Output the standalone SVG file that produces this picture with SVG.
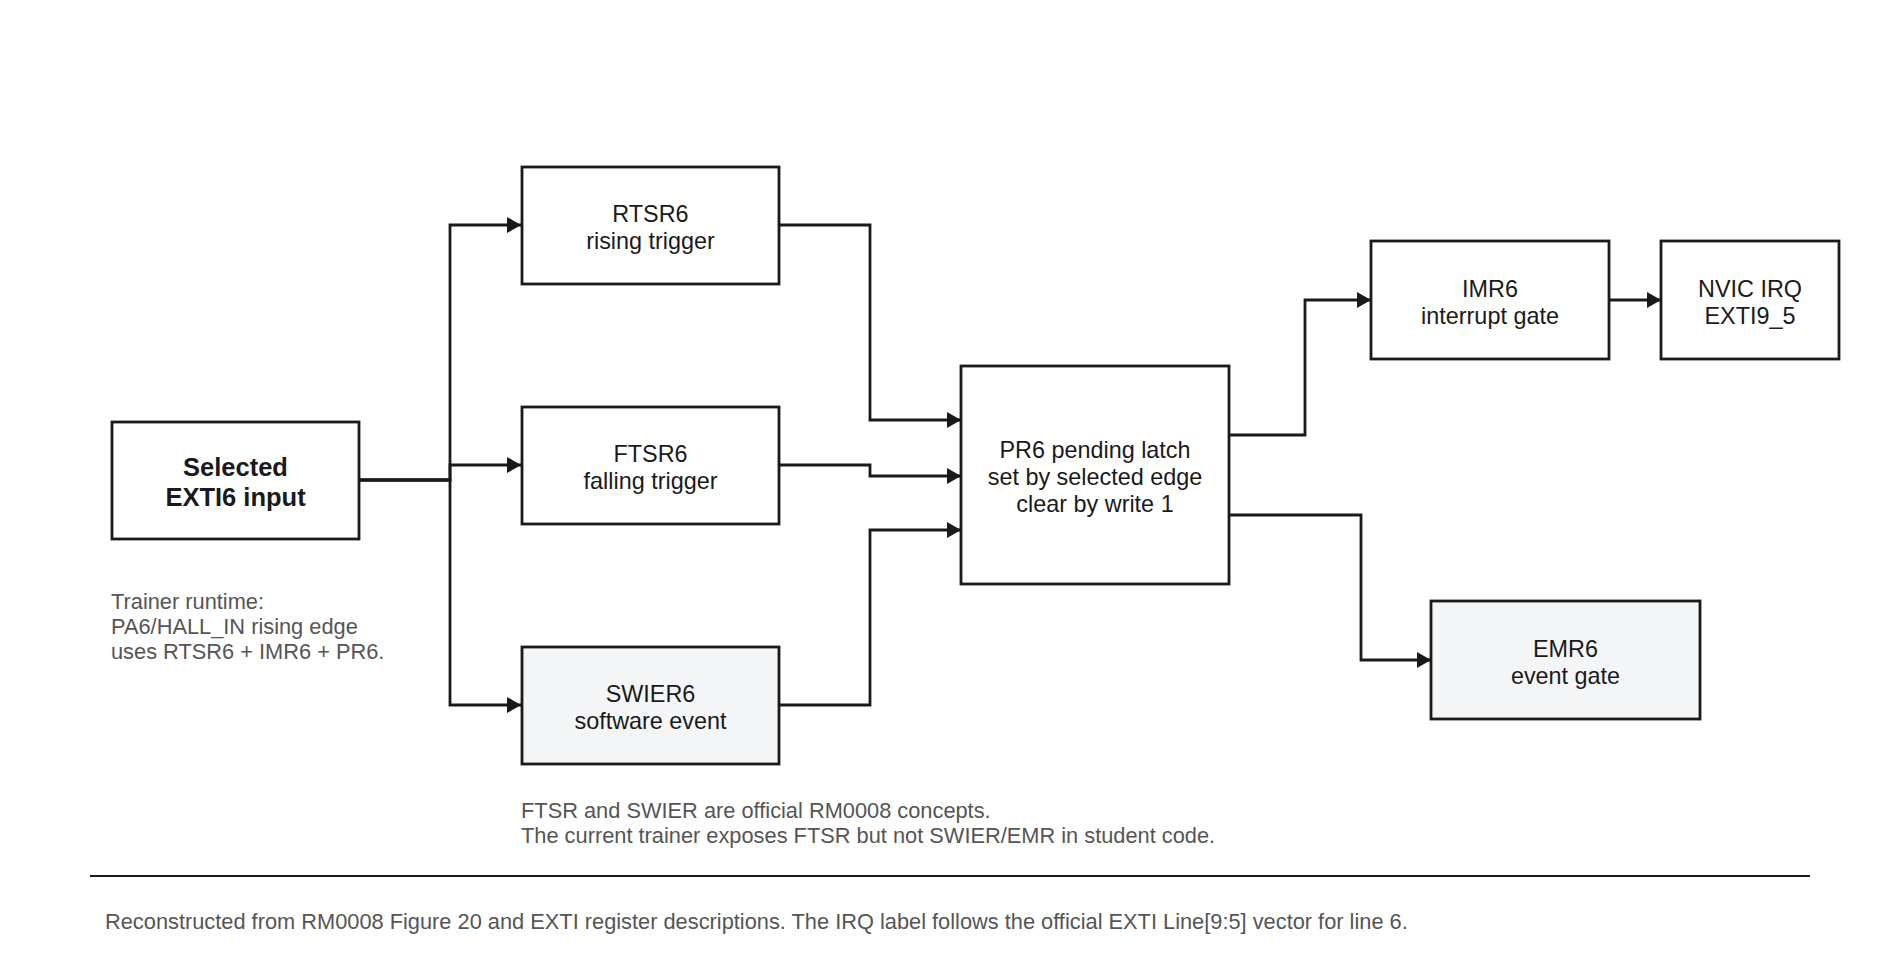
<svg xmlns="http://www.w3.org/2000/svg" width="1900" height="980" viewBox="0 0 1900 980">
<defs>
<marker id="arr" viewBox="0 0 14 16" refX="14" refY="8" markerWidth="14" markerHeight="16" markerUnits="userSpaceOnUse" orient="auto">
<path d="M0,0 L14,8 L0,16 z" fill="#1a1a1a"/>
</marker>
<style>
.box{fill:#ffffff;stroke:#1a1a1a;stroke-width:2.8}
.soft{fill:#f4f5f7}
.lbl{font-family:"Liberation Sans",Arial,sans-serif;font-size:23.4px;fill:#1a1a1a;text-anchor:middle}
.bold{font-weight:bold;font-size:25.5px}
.note{font-family:"Liberation Sans",Arial,sans-serif;font-size:21.8px;fill:#555555}
.wire{fill:none;stroke:#1a1a1a;stroke-width:2.8;marker-end:url(#arr)}
</style>
</defs>
<rect width="1900" height="980" fill="#ffffff"/>
<g id="connectors">
<path class="wire" d="M359,480 H450 V225 H521"/>
<path class="wire" d="M359,480 H450 V465 H521"/>
<path class="wire" d="M359,480 H450 V705 H521"/>
<path class="wire" d="M779,225 H870 V420 H961"/>
<path class="wire" d="M779,465 H870 V476 H961"/>
<path class="wire" d="M779,705 H870 V530 H961"/>
<path class="wire" d="M1229,435 H1305 V300 H1371"/>
<path class="wire" d="M1609,300 H1661"/>
<path class="wire" d="M1229,515 H1361 V660 H1431"/>
</g>
<g id="selected">
<rect class="box" x="112" y="422" width="247" height="117"/>
<text class="lbl bold" x="235.5" y="476">Selected</text>
<text class="lbl bold" x="235.5" y="506">EXTI6 input</text>
</g>
<g id="rtsr6">
<rect class="box" x="522" y="167" width="257" height="117"/>
<text class="lbl" x="650.5" y="222">RTSR6</text>
<text class="lbl" x="650.5" y="249">rising trigger</text>
</g>
<g id="ftsr6">
<rect class="box" x="522" y="407" width="257" height="117"/>
<text class="lbl" x="650.5" y="462">FTSR6</text>
<text class="lbl" x="650.5" y="489">falling trigger</text>
</g>
<g id="swier6">
<rect class="box soft" x="522" y="647" width="257" height="117"/>
<text class="lbl" x="650.5" y="702">SWIER6</text>
<text class="lbl" x="650.5" y="729">software event</text>
</g>
<g id="pr6">
<rect class="box" x="961" y="366" width="268" height="218"/>
<text class="lbl" x="1095" y="458">PR6 pending latch</text>
<text class="lbl" x="1095" y="485">set by selected edge</text>
<text class="lbl" x="1095" y="512">clear by write 1</text>
</g>
<g id="imr6">
<rect class="box" x="1371" y="241" width="238" height="118"/>
<text class="lbl" x="1490" y="296.5">IMR6</text>
<text class="lbl" x="1490" y="323.5">interrupt gate</text>
</g>
<g id="nvic">
<rect class="box" x="1661" y="241" width="178" height="118"/>
<text class="lbl" x="1750" y="296.5">NVIC IRQ</text>
<text class="lbl" x="1750" y="323.5">EXTI9_5</text>
</g>
<g id="emr6">
<rect class="box soft" x="1431" y="601" width="269" height="118"/>
<text class="lbl" x="1565.5" y="657">EMR6</text>
<text class="lbl" x="1565.5" y="684">event gate</text>
</g>
<g id="notes">
<text class="note" x="111" y="609">Trainer runtime:</text>
<text class="note" x="111" y="634">PA6/HALL_IN rising edge</text>
<text class="note" x="111" y="659">uses RTSR6 + IMR6 + PR6.</text>
<text class="note" x="521" y="818">FTSR and SWIER are official RM0008 concepts.</text>
<text class="note" x="521" y="843">The current trainer exposes FTSR but not SWIER/EMR in student code.</text>
</g>
<line x1="90" y1="876" x2="1810" y2="876" stroke="#1a1a1a" stroke-width="2"/>
<text class="note" x="105" y="929">Reconstructed from RM0008 Figure 20 and EXTI register descriptions. The IRQ label follows the official EXTI Line[9:5] vector for line 6.</text>
</svg>
